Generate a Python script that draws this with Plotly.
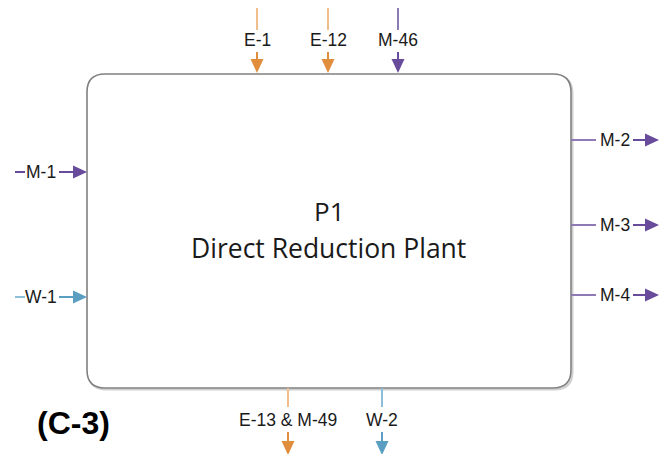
import plotly.graph_objects as go

# ---- data ----
box_title = "P1"
box_subtitle = "Direct Reduction Plant"
panel_label = "(C-3)"
top_streams = ["E-1", "E-12", "M-46"]
top_kinds = ["E", "E", "M"]
left_streams = ["M-1", "W-1"]
left_kinds = ["M", "W"]
right_streams = ["M-2", "M-3", "M-4"]
right_kinds = ["M", "M", "M"]
bottom_streams = ["E-13 & M-49", "W-2"]
bottom_kinds = ["E", "W"]

# ---- styles ----
HEAD = {"E": "#E08E3C", "M": "#684B9A", "W": "#5A9EC2"}
LINE = {"E": "#F0BE8C", "M": "#8E7BB6", "W": "#8CC0D8"}
TXT = "#1a1a1a"
W, H = 672, 454
OFF = 8  # page body margin
BX0, BX1, BY0, BY1, R = 87, 571, 74, 388, 18

top_x = [257, 328, 398]
left_y = [172, 297]
right_y = [140, 225, 295]
bottom_x = [288, 382]

shapes = []
ann = []


def seg(x0, y0, x1, y1, c, w=2):
    shapes.append(dict(type="line", x0=x0, y0=y0, x1=x1, y1=y1,
                       line=dict(color=c, width=w), layer="above"))


def head(x, y, d, c, s=6.5, L=14):
    if d == "down":
        p = f"M{x-s},{y-L} L{x+s},{y-L} L{x},{y} Z"
    else:
        p = f"M{x-L},{y-s} L{x-L},{y+s} L{x},{y} Z"
    shapes.append(dict(type="path", path=p, fillcolor=c,
                       line=dict(color=c, width=0), layer="above"))


def label(x, y, t, size=17.5):
    ann.append(dict(x=x, y=y, text=t, showarrow=False, xref="x", yref="y",
                    font=dict(family="Liberation Sans, Arial", size=size, color=TXT)))


def rrect(x0, y0, x1, y1, r):
    return (f"M{x0+r},{y0} L{x1-r},{y0} Q{x1},{y0} {x1},{y0+r} "
            f"L{x1},{y1-r} Q{x1},{y1} {x1-r},{y1} L{x0+r},{y1} "
            f"Q{x0},{y1} {x0},{y1-r} L{x0},{y0+r} Q{x0},{y0} {x0+r},{y0} Z")


shapes.append(dict(type="path", path=rrect(BX0 + 1.5, BY0 + 1.5, BX1 + 1.5, BY1 + 1.5, R),
                   line=dict(color="#cfcfcf", width=2), layer="below"))
shapes.append(dict(type="path", path=rrect(BX0, BY0, BX1, BY1, R), fillcolor="white",
                   line=dict(color="#808080", width=1.6), layer="below"))

# top inputs
for t, k, x in zip(top_streams, top_kinds, top_x):
    seg(x, 8, x, 30, LINE[k])
    label(x, 40, t)
    seg(x, 52, x, 62, HEAD[k])
    head(x, BY0 - 1, "down", HEAD[k])

# left inputs
for t, k, y in zip(left_streams, left_kinds, left_y):
    seg(15, y, 25, y, LINE[k] if k == "W" else HEAD[k])
    label(41, y, t)
    seg(59, y, 74, y, HEAD[k])
    head(BX0, y, "right", HEAD[k])

# right outputs
for t, k, y in zip(right_streams, right_kinds, right_y):
    seg(BX1, y, 596, y, LINE[k])
    label(615, y, t)
    seg(633, y, 646, y, HEAD[k])
    head(659, y, "right", HEAD[k])

# bottom outputs
for t, k, x in zip(bottom_streams, bottom_kinds, bottom_x):
    seg(x, BY1, x, 407, LINE[k])
    label(x, 420, t)
    seg(x, 432, x, 442, HEAD[k])
    head(x, 455, "down", HEAD[k])

# centre text
ann.append(dict(x=329, y=211, text=box_title, showarrow=False,
                font=dict(family="Open Sans", size=26, color=TXT)))
ann.append(dict(x=328, y=248, text=box_subtitle, showarrow=False,
                font=dict(family="Open Sans", size=26.5, color=TXT)))
ann.append(dict(x=73, y=423, text=f"<b>{panel_label}</b>", showarrow=False,
                font=dict(family="Liberation Sans, Arial", size=32, color="#000000")))

fig = go.Figure()
fig.update_layout(width=W - OFF, height=H - OFF, margin=dict(l=0, r=0, t=0, b=0),
                  paper_bgcolor="white", plot_bgcolor="white",
                  shapes=shapes, annotations=ann, showlegend=False,
                  xaxis=dict(range=[OFF, W], visible=False, fixedrange=True),
                  yaxis=dict(range=[H, OFF], visible=False, fixedrange=True))
fig.write_html("out.html")
